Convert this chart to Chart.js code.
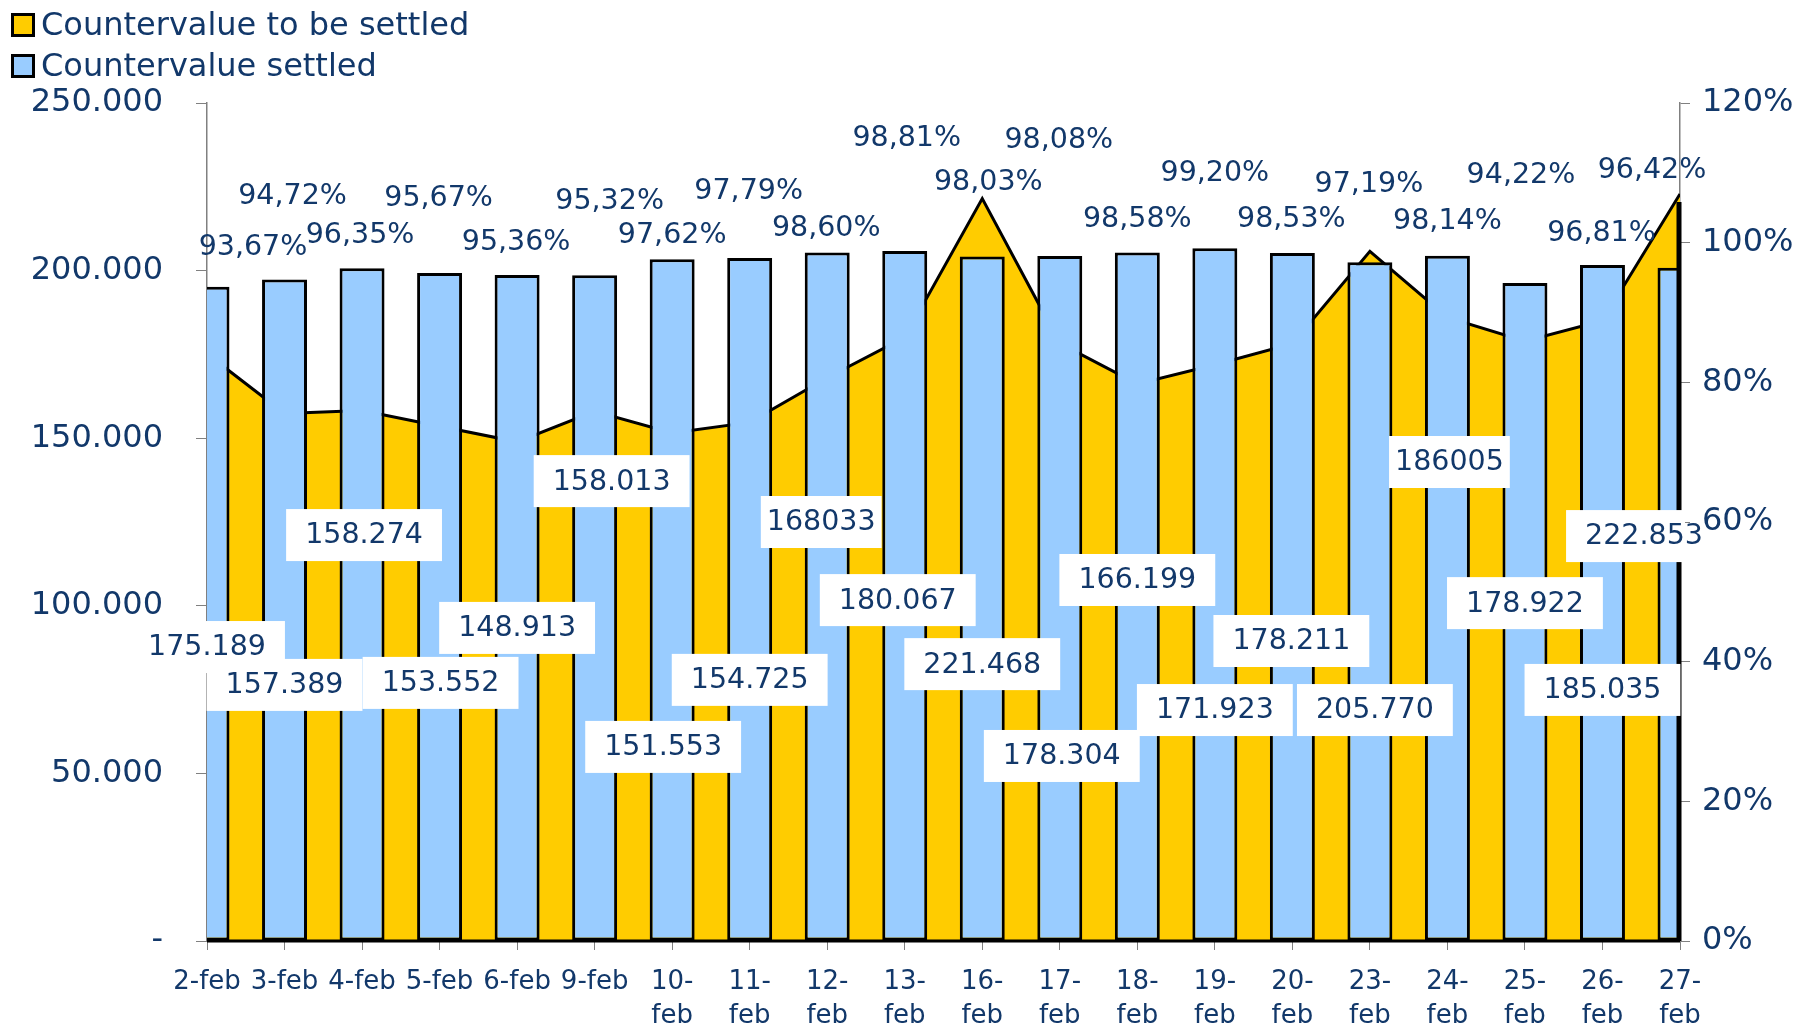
<!DOCTYPE html>
<html>
<head>
<meta charset="utf-8">
<script src="https://cdn.jsdelivr.net/npm/chart.js@4.4.1/dist/chart.umd.min.js"></script>
<style>
  body { margin: 0; background: #fff; }
  canvas { display: block; }
</style>
</head>
<body>
<canvas id="chart" width="1801" height="1024"></canvas>
<script>
var days = ['2-feb', '3-feb', '4-feb', '5-feb', '6-feb', '9-feb', '10-feb', '11-feb', '12-feb', '13-feb',
    '16-feb', '17-feb', '18-feb', '19-feb', '20-feb', '23-feb', '24-feb', '25-feb', '26-feb', '27-feb'];
var toSettle = [175189, 157389, 158274, 153552, 148913, 158013, 151553, 154725, 168033, 180067,
    221468, 178304, 166199, 171923, 178211, 205770, 186005, 178922, 185035, 222853];
var settledPct = [93.67, 94.72, 96.35, 95.67, 95.36, 95.32, 97.62, 97.79, 98.60, 98.81,
    98.03, 98.08, 98.58, 99.20, 98.53, 97.19, 98.14, 94.22, 96.81, 96.42];
// labels that are shown without thousands separator
var plainLabels = [8, 16];

// where the labels were dragged to (axis value + pixel shift)
var valueLabelAt = [87700, 76400, 121100, 77000, 93400, 137200, 57900, 77900, 125000, 101700,
    82600, 55200, 107700, 68900, 89500, 68900, 142900, 100800, 74900, 120800];
var valueLabelDx = [0, 0, 2, 1, 0, 17, -9, 0, -6, -7, 0, 2, 0, 0, -1, 5, 2, 0, 0, -36];
var pctLabelAt = [99.4, 106.8, 101.2, 106.4, 100.1, 106.0, 101.1, 107.5, 102.2, 115.0,
    108.7, 114.7, 103.5, 110.1, 103.5, 108.4, 103.1, 109.7, 101.5, 110.5];
var pctLabelDx = [46, 8, -2, -1, -1, 15, 0, -1, -1, 2, 6, -1, 0, 0, -1, -1, 0, -4, -1, -28];

var navy = '#12386A';
var yellow = '#FFCC00';
var blue = '#99CCFF';
var font = 'DejaVu Sans';

function dots(v) {
    return String(v).replace(/\B(?=(\d{3})+(?!\d))/g, '.');
}

var labelsPlugin = {
    id: 'labels',
    afterDatasetsDraw: function (chart) {
        var ctx = chart.ctx;
        var x = chart.scales.x, y = chart.scales.y, y1 = chart.scales.y1;
        var area = chart.chartArea;
        var last = toSettle.length - 1;

        // base line and right edge of the area
        ctx.save();
        ctx.strokeStyle = '#000';
        ctx.lineWidth = 3;
        ctx.beginPath();
        ctx.moveTo(area.left, area.bottom);
        ctx.lineTo(area.right, area.bottom);
        ctx.stroke();
        ctx.lineWidth = 5;
        ctx.beginPath();
        ctx.moveTo(x.getPixelForValue(last) - 1, y.getPixelForValue(toSettle[last]) + 8);
        ctx.lineTo(x.getPixelForValue(last) - 1, area.bottom);
        ctx.stroke();
        ctx.restore();

        // value labels in white boxes
        ctx.save();
        ctx.font = '28.5px "' + font + '"';
        ctx.textAlign = 'center';
        ctx.textBaseline = 'middle';
        toSettle.forEach(function (v, i) {
            var txt = plainLabels.indexOf(i) >= 0 ? String(v) : dots(v);
            var cx = x.getPixelForValue(i) + valueLabelDx[i];
            var cy = y.getPixelForValue(valueLabelAt[i]);
            var w = ctx.measureText(txt).width + (plainLabels.indexOf(i) >= 0 ? 12 : 38);
            var h = 52;
            var left = cx - w / 2, right = Math.min(cx + w / 2, area.right + 5);
            ctx.fillStyle = '#fff';
            ctx.fillRect(left, cy - h / 2, right - left, h);
            ctx.fillStyle = navy;
            ctx.fillText(txt, cx, cy + 1);
        });

        // percentage labels
        settledPct.forEach(function (v, i) {
            var txt = v.toFixed(2).replace('.', ',') + '%';
            ctx.fillStyle = navy;
            ctx.fillText(txt, x.getPixelForValue(i) + pctLabelDx[i], y1.getPixelForValue(pctLabelAt[i]) + 1);
        });
        ctx.restore();
    },
    afterDraw: function (chart) {
        var ctx = chart.ctx;
        var items = [['Countervalue to be settled', yellow], ['Countervalue settled', blue]];
        ctx.save();
        ctx.font = '32px "' + font + '"';
        ctx.textBaseline = 'middle';
        items.forEach(function (it, i) {
            var cy = 25 + i * 41;
            ctx.fillStyle = it[1];
            ctx.fillRect(12, cy - 11, 22, 22);
            ctx.strokeStyle = '#000';
            ctx.lineWidth = 3;
            ctx.strokeRect(12.5, cy - 10.5, 21, 21);
            ctx.fillStyle = navy;
            ctx.fillText(it[0], 41, cy + 2);
        });
        ctx.restore();
    }
};

var c = document.getElementById('chart');
var ctx = c.getContext('2d');
var myChart = new Chart(ctx, {
    type: 'bar',
    data: {
        labels: days,
        datasets: [{
            type: 'bar',
            label: 'Countervalue settled',
            data: settledPct,
            yAxisID: 'y1',
            backgroundColor: blue,
            borderColor: '#000',
            borderWidth: 3,
            borderSkipped: false,
            barPercentage: 0.58,
            categoryPercentage: 1,
            clip: 0,
            order: 0
        }, {
            type: 'line',
            label: 'Countervalue to be settled',
            data: toSettle,
            yAxisID: 'y',
            backgroundColor: yellow,
            borderColor: '#000',
            borderWidth: 3,
            tension: 0,
            pointRadius: 0,
            fill: 'origin',
            clip: 0,
            order: 1
        }]
    },
    options: {
        responsive: false,
        animation: false,
        devicePixelRatio: 1,
        layout: { padding: { top: 103, left: 0, right: 0, bottom: 0 } },
        plugins: {
            legend: { display: false },
            tooltip: { enabled: false }
        },
        scales: {
            x: {
                offset: false,
                grid: { offset: false, drawOnChartArea: false, color: '#808080', tickLength: 9 },
                border: { color: '#808080', width: 1.5 },
                afterFit: function (s) { s.height = 83; },
                ticks: {
                    color: navy,
                    font: { family: font, size: 26, lineHeight: 1.31 },
                    padding: 15,
                    maxRotation: 0,
                    autoSkip: false,
                    callback: function (v, i) {
                        var d = days[i];
                        return d.length > 5 ? [d.split('-')[0] + '-', 'feb'] : d;
                    }
                }
            },
            y: {
                position: 'left',
                min: 0,
                max: 250000,
                grid: { drawOnChartArea: false, color: '#808080', tickLength: 11 },
                border: { color: '#808080', width: 1.5 },
                afterFit: function (s) { s.width = 207; },
                ticks: {
                    stepSize: 50000,
                    color: navy,
                    padding: 33,
                    font: { family: font, size: 32 },
                    callback: function (v) { return v === 0 ? '-' : dots(v); }
                }
            },
            y1: {
                position: 'right',
                min: 0,
                max: 120,
                grid: { drawOnChartArea: false, color: '#808080', tickLength: 10 },
                border: { color: '#808080', width: 1.5 },
                afterFit: function (s) { s.width = 121; },
                ticks: {
                    stepSize: 20,
                    color: navy,
                    padding: 12,
                    font: { family: font, size: 32 },
                    callback: function (v) { return v + '%'; }
                }
            }
        }
    },
    plugins: [labelsPlugin]
});
</script>
</body>
</html>
